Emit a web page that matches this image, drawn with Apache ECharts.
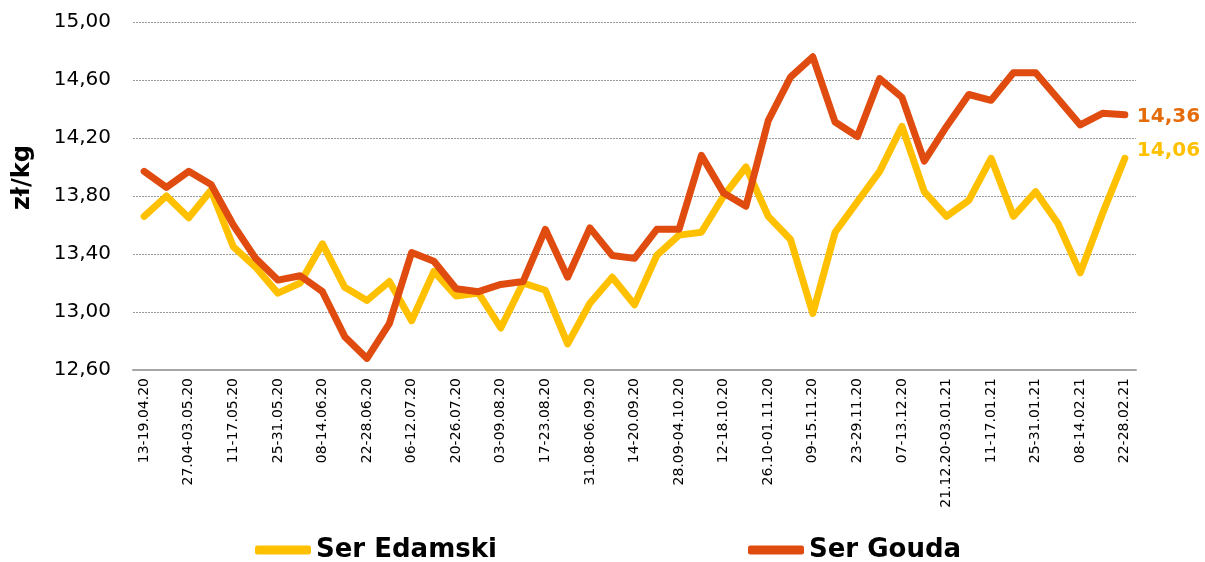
<!DOCTYPE html>
<html>
<head>
<meta charset="utf-8">
<script src="https://cdn.jsdelivr.net/npm/echarts@6/dist/echarts.min.js"></script>
<style>
  html, body { margin: 0; padding: 0; background: #fff; }
  #chart { width: 1205px; height: 562px; }
</style>
</head>
<body>
<div id="chart"></div>
<script>
  // weekly periods, 21.12.20-03.01.21 is one two-week entry
  var weeks = [
    '13-19.04.20', '20-26.04.20', '27.04-03.05.20', '04-10.05.20', '11-17.05.20',
    '18-24.05.20', '25-31.05.20', '01-07.06.20', '08-14.06.20', '15-21.06.20',
    '22-28.06.20', '29.06-05.07.20', '06-12.07.20', '13-19.07.20', '20-26.07.20',
    '27.07-02.08.20', '03-09.08.20', '10-16.08.20', '17-23.08.20', '24-30.08.20',
    '31.08-06.09.20', '07-13.09.20', '14-20.09.20', '21-27.09.20', '28.09-04.10.20',
    '05-11.10.20', '12-18.10.20', '19-25.10.20', '26.10-01.11.20', '02-08.11.20',
    '09-15.11.20', '16-22.11.20', '23-29.11.20', '30.11-06.12.20', '07-13.12.20',
    '14-20.12.20', '21.12.20-03.01.21', '04-10.01.21', '11-17.01.21', '18-24.01.21',
    '25-31.01.21', '01-07.02.21', '08-14.02.21', '15-21.02.21', '22-28.02.21'
  ];
  var edamski = [
    13.66, 13.80, 13.65, 13.84, 13.45, 13.31, 13.13, 13.20, 13.47, 13.17,
    13.08, 13.21, 12.94, 13.28, 13.11, 13.13, 12.89, 13.20, 13.15, 12.78,
    13.06, 13.24, 13.05, 13.39, 13.53, 13.55, 13.80, 14.00, 13.66, 13.50,
    12.99, 13.55, 13.76, 13.97, 14.28, 13.83, 13.66, 13.77, 14.06, 13.66,
    13.83, 13.61, 13.27, 13.68, 14.06
  ];
  var gouda = [
    13.97, 13.86, 13.97, 13.88, 13.60, 13.37, 13.22, 13.25, 13.14, 12.83,
    12.68, 12.92, 13.41, 13.35, 13.16, 13.14, 13.19, 13.21, 13.57, 13.24,
    13.58, 13.39, 13.37, 13.57, 13.57, 14.08, 13.82, 13.73, 14.32, 14.62,
    14.76, 14.31, 14.21, 14.61, 14.48, 14.04, 14.28, 14.50, 14.46, 14.65,
    14.65, 14.47, 14.29, 14.37, 14.36
  ];
  var yMin = 12.6;
  var yMax = 15.0;
  var yStep = 0.4;

  function fmt (v) {
    return v.toFixed(2).replace('.', ',');
  }

  var font = '"DejaVu Sans", Verdana, sans-serif';
  var legendText = { fontSize: 26, fontWeight: 'bold', color: '#000', fontFamily: font };
  var chart = echarts.init(document.getElementById('chart'));
  chart.setOption({
    animation: false,
    textStyle: { fontFamily: font },
    grid: { left: 133, right: 69, top: 22, bottom: 192 },
    legend: [
      {
        data: ['Ser Edamski'],
        left: 255,
        top: 537,
        padding: 0,
        icon: 'roundRect',
        itemWidth: 56,
        itemHeight: 9,
        textStyle: legendText
      },
      {
        data: ['Ser Gouda'],
        left: 748,
        top: 537,
        padding: 0,
        icon: 'roundRect',
        itemWidth: 56,
        itemHeight: 9,
        textStyle: legendText
      }
    ],
    xAxis: {
      type: 'category',
      data: weeks,
      boundaryGap: true,
      axisLine: { lineStyle: { color: '#a6a6a6', width: 2 } },
      axisTick: { interval: 0, length: 5, lineStyle: { color: '#a6a6a6', width: 2 } },
      axisLabel: {
        interval: 1,
        rotate: 90,
        fontSize: 14,
        color: '#000',
        margin: 8,
        fontFamily: font
      }
    },
    yAxis: {
      type: 'value',
      min: yMin,
      max: yMax,
      interval: yStep,
      name: 'zł/kg',
      nameLocation: 'middle',
      nameGap: 98,
      nameTextStyle: {
        fontSize: 24,
        fontWeight: 'bold',
        color: '#000',
        fontFamily: font,
        padding: [0, 0, 0, 37]
      },
      axisLine: { show: false },
      axisTick: { show: false },
      axisLabel: {
        fontSize: 20,
        color: '#000',
        margin: 22,
        fontFamily: font,
        formatter: function (v) { return fmt(v); }
      },
      splitLine: { lineStyle: { color: '#9a9a9a', type: [2, 1], width: 1 } }
    },
    series: [
      {
        name: 'Ser Edamski',
        type: 'line',
        data: edamski,
        symbol: 'none',
        color: '#ffc000',
        lineStyle: { width: 7, color: '#ffc000', cap: 'round', join: 'round' },
        endLabel: {
          show: true,
          offset: [4, -8],
          fontSize: 20,
          fontWeight: 'bold',
          color: '#ffc000',
          fontFamily: font,
          formatter: function (p) { return fmt(p.value); }
        }
      },
      {
        name: 'Ser Gouda',
        type: 'line',
        data: gouda,
        symbol: 'none',
        color: '#e04b10',
        lineStyle: { width: 7, color: '#e04b10', cap: 'round', join: 'round' },
        endLabel: {
          show: true,
          offset: [4, 2],
          fontSize: 20,
          fontWeight: 'bold',
          color: '#e46c0a',
          fontFamily: font,
          formatter: function (p) { return fmt(p.value); }
        }
      }
    ]
  });
</script>
</body>
</html>
